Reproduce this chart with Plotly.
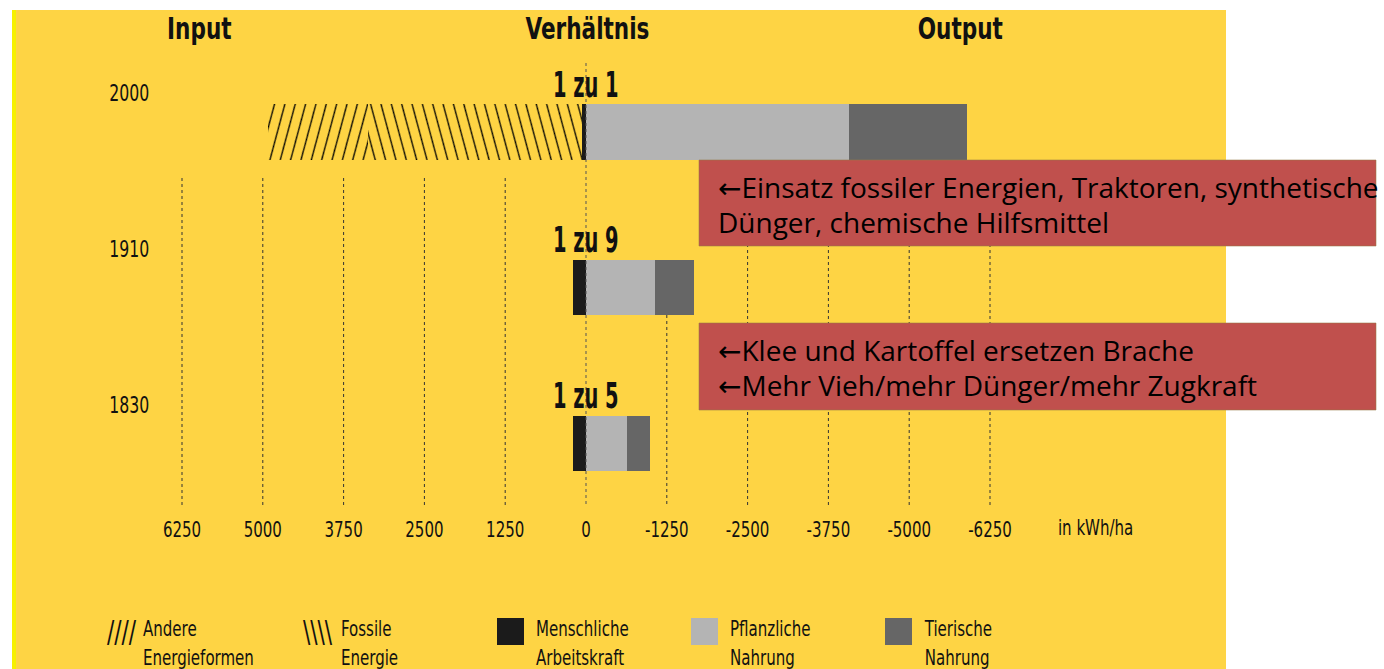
import plotly.graph_objects as go

# ---------------- data ----------------
YEARS = ["1830", "1910", "2000"]
RATIOS = ["1 zu 5", "1 zu 9", "1 zu 1"]
# Input (kWh/ha)
MENSCHLICHE = [200, 200, 60]
FOSSILE = [0, 0, 3310]
ANDERE = [0, 0, 1550]
# Output (kWh/ha)
PFLANZLICHE = [634, 1067, 4070]
TIERISCHE = [356, 603, 1825]

TICK_VALUES = [6250, 5000, 3750, 2500, 1250, 0, -1250, -2500, -3750, -5000, -6250]
TICK_LABELS = ["6250", "5000", "3750", "2500", "1250", "0", "-1250", "-2500", "-3750", "-5000", "-6250"]

NOTE_1 = ["\u2190Einsatz fossiler Energien, Traktoren, synthetische", "D\u00fcnger, chemische Hilfsmittel"]
NOTE_2 = ["\u2190Klee und Kartoffel ersetzen Brache", "\u2190Mehr Vieh/mehr D\u00fcnger/mehr Zugkraft"]

LEGEND = [
    ("////", "Andere<br>Energieformen", None),
    ("\\\\\\\\", "Fossile<br>Energie", None),
    ("", "Menschliche<br>Arbeitskraft", "#1b1b1b"),
    ("", "Pflanzliche<br>Nahrung", "#b4b4b4"),
    ("", "Tierische<br>Nahrung", "#666666"),
]

# ---------------- styling ----------------
W, H = 1384, 669
L, R, T, B = 100, 1200, 60, 505
YELLOW = "#FED444"
RED = "#C0504D"
NARROW = ("Noto Sans ExtraCondensed, Noto Sans Condensed, Liberation Sans Narrow, "
          "DejaVu Sans Condensed, Noto Sans, sans-serif")
BODY = "Open Sans, Noto Sans, DejaVu Sans, sans-serif"
INK = "#111111"


def nfont(size):
    return dict(family=NARROW, size=size, color=INK)


def px(x):
    return (x - L) / (R - L)


def py(y):
    return (B - y) / (B - T)


# x scale: 0 at px 586, 1250 units per 80.8 px (axis reversed: input to the left)
PX_PER_UNIT = 80.8 / 1250
x_left = (586 - L) / PX_PER_UNIT
x_right = -(R - 586) / PX_PER_UNIT
# y scale: category centers at px 443.5, 287.75, 132
STEP = 155.75
y_bottom = (443.5 - B) / STEP
y_top = (443.5 - T) / STEP

fig = go.Figure()

bar_w = 0.355
common = dict(orientation="h", width=bar_w, showlegend=False, hoverinfo="x+y+name")
fig.add_trace(go.Bar(y=YEARS, x=MENSCHLICHE, name="Menschliche Arbeitskraft",
                     marker=dict(color="#1b1b1b", line=dict(width=0)), **common))
fig.add_trace(go.Bar(y=YEARS, x=FOSSILE, name="Fossile Energie",
                     marker=dict(color=YELLOW, line=dict(width=0),
                                 pattern=dict(shape="\\", size=10, solidity=0.13, fgopacity=1,
                                              fgcolor="#000000", bgcolor=YELLOW)),
                     **common))
fig.add_trace(go.Bar(y=YEARS, x=ANDERE, name="Andere Energieformen",
                     marker=dict(color=YELLOW, line=dict(width=0),
                                 pattern=dict(shape="/", size=10, solidity=0.13, fgopacity=1,
                                              fgcolor="#000000", bgcolor=YELLOW)),
                     **common))
fig.add_trace(go.Bar(y=YEARS, x=[-v for v in PFLANZLICHE], name="Pflanzliche Nahrung",
                     marker=dict(color="#b4b4b4", line=dict(width=0)), **common))
fig.add_trace(go.Bar(y=YEARS, x=[-v for v in TIERISCHE], name="Tierische Nahrung",
                     marker=dict(color="#666666", line=dict(width=0)), **common))

shapes = []
# yellow background + left stripe
shapes.append(dict(type="rect", xref="paper", yref="paper", x0=px(14), x1=px(1226),
                   y0=py(669), y1=py(10), fillcolor=YELLOW, line=dict(width=0), layer="below"))
shapes.append(dict(type="rect", xref="paper", yref="paper", x0=px(12), x1=px(16),
                   y0=py(669), y1=py(10), fillcolor="#F6F000", line=dict(width=0), layer="below"))
# dotted grid lines
for v in TICK_VALUES:
    if v == 0:
        continue
    top = 315 if v == -1250 else 178
    shapes.append(dict(type="line", xref="x", yref="paper", x0=v, x1=v, y0=py(top), y1=py(505),
                       line=dict(color="#333333", width=1, dash="dot"), layer="below"))
# zero line (above bars)
shapes.append(dict(type="line", xref="x", yref="paper", x0=0, x1=0, y0=py(63), y1=py(505),
                   line=dict(color="#555555", width=1, dash="dot"), layer="above"))
# red note boxes
for (y0, y1) in [(160, 246), (323, 410)]:
    shapes.append(dict(type="rect", xref="paper", yref="paper", x0=px(699), x1=px(1376),
                       y0=py(y1), y1=py(y0), fillcolor=RED,
                       line=dict(color="rgba(150,120,70,0.55)", width=1), layer="above"))

annotations = []
# headers
for txt, x in [("Input", 199), ("Verh\u00e4ltnis", 587), ("Output", 960)]:
    annotations.append(dict(text=f"<b>{txt}</b>", xref="paper", yref="paper", x=px(x), y=py(28),
                            showarrow=False, xanchor="center", yanchor="middle",
                            font=nfont(30)))
# year labels and ratio labels (category index positions)
for i, (yr, ratio) in enumerate(zip(YEARS, RATIOS)):
    annotations.append(dict(text=yr, xref="paper", yref="y", x=px(129), y=i, yshift=39,
                            showarrow=False, xanchor="center", yanchor="middle",
                            font=nfont(23)))
    annotations.append(dict(text=f"<b>{ratio}</b>", xref="x", yref="y", x=0, y=i, yshift=48,
                            showarrow=False, xanchor="center", yanchor="middle",
                            font=nfont(36)))
# unit label
annotations.append(dict(text="in kWh/ha", xref="paper", yref="paper", x=px(1095), y=py(527),
                        showarrow=False, xanchor="center", yanchor="middle",
                        font=nfont(22)))
# note texts
for lines, ys in [(NOTE_1, (187, 222)), (NOTE_2, (350, 385))]:
    for t, yy in zip(lines, ys):
        annotations.append(dict(text=t, xref="paper", yref="paper", x=px(716), y=py(yy),
                                showarrow=False, xanchor="left", yanchor="middle", align="left",
                                font=dict(family=BODY, size=28, color="#000000")))
# legend
leg_x = [108, 304, 497, 691, 885]
for (sym, label, color), x0 in zip(LEGEND, leg_x):
    if color:
        shapes.append(dict(type="rect", xref="paper", yref="paper", x0=px(x0), x1=px(x0 + 27),
                           y0=py(645), y1=py(618), fillcolor=color, line=dict(width=0)))
        tx = x0 + 37
    else:
        annotations.append(dict(text=sym, xref="paper", yref="paper", x=px(x0 - 3), y=py(631),
                                showarrow=False, xanchor="left", yanchor="middle", align="left",
                                font=nfont(30)))
        tx = x0 + (33 if sym.startswith("/") else 35)
    annotations.append(dict(text=label, xref="paper", yref="paper", x=px(tx), y=py(614),
                            showarrow=False, xanchor="left", yanchor="top", align="left",
                            font=nfont(22)))

fig.update_layout(
    width=W, height=H,
    margin=dict(l=L, r=W - R, t=T, b=H - B, pad=0),
    paper_bgcolor="white", plot_bgcolor="rgba(0,0,0,0)",
    barmode="relative", bargap=0,
    shapes=shapes, annotations=annotations,
    xaxis=dict(range=[x_left, x_right], tickmode="array", tickvals=TICK_VALUES, ticktext=TICK_LABELS,
               showgrid=False, zeroline=False, showline=False,
               ticks="outside", ticklen=5, tickcolor="rgba(0,0,0,0)",
               tickfont=nfont(22)),
    yaxis=dict(range=[y_bottom, y_top], type="category", categoryorder="array", categoryarray=YEARS,
               showticklabels=False, showgrid=False, zeroline=False, showline=False, ticks=""),
)

POST = """
document.body.style.margin = '0';
var gd = document.getElementById('{plot_id}');
function squeezeOne(t, k) {
  var cur = t.getAttribute('transform') || '';
  if (t.getAttribute('data-new-tf') !== null && cur === t.getAttribute('data-new-tf')) return;
  var b = t.getBBox();
  var a = t.getAttribute('text-anchor') || 'start';
  var cx = a === 'start' ? b.x : (a === 'end' ? b.x + b.width : b.x + b.width / 2);
  var nt = cur + ' translate(' + cx + ',0) scale(' + k + ',1) translate(' + (-cx) + ',0)';
  t.setAttribute('data-new-tf', nt);
  t.setAttribute('transform', nt);
}
function condense() {
  gd.querySelectorAll('text').forEach(function (t) {
    var ff = t.style.fontFamily || '';
    if (ff.indexOf('ExtraCondensed') < 0) return;
    var fs = parseFloat(t.style.fontSize) || 0;
    var k = fs >= 33 ? 0.6 : (fs >= 28 ? 0.8 : 0.76);
    squeezeOne(t, k);
  });
  gd.querySelectorAll('pattern').forEach(function (p) {
    var path = p.querySelector('path');
    if (!path) return;
    var d = path.getAttribute('d') || '';
    p.setAttribute('patternTransform', d.indexOf('M0,0L') >= 0 ? 'rotate(30)' : 'rotate(-30)');
  });
}
condense();
gd.on('plotly_afterplot', condense);
"""

fig.write_html("out.html", config={"displayModeBar": False}, post_script=POST)
